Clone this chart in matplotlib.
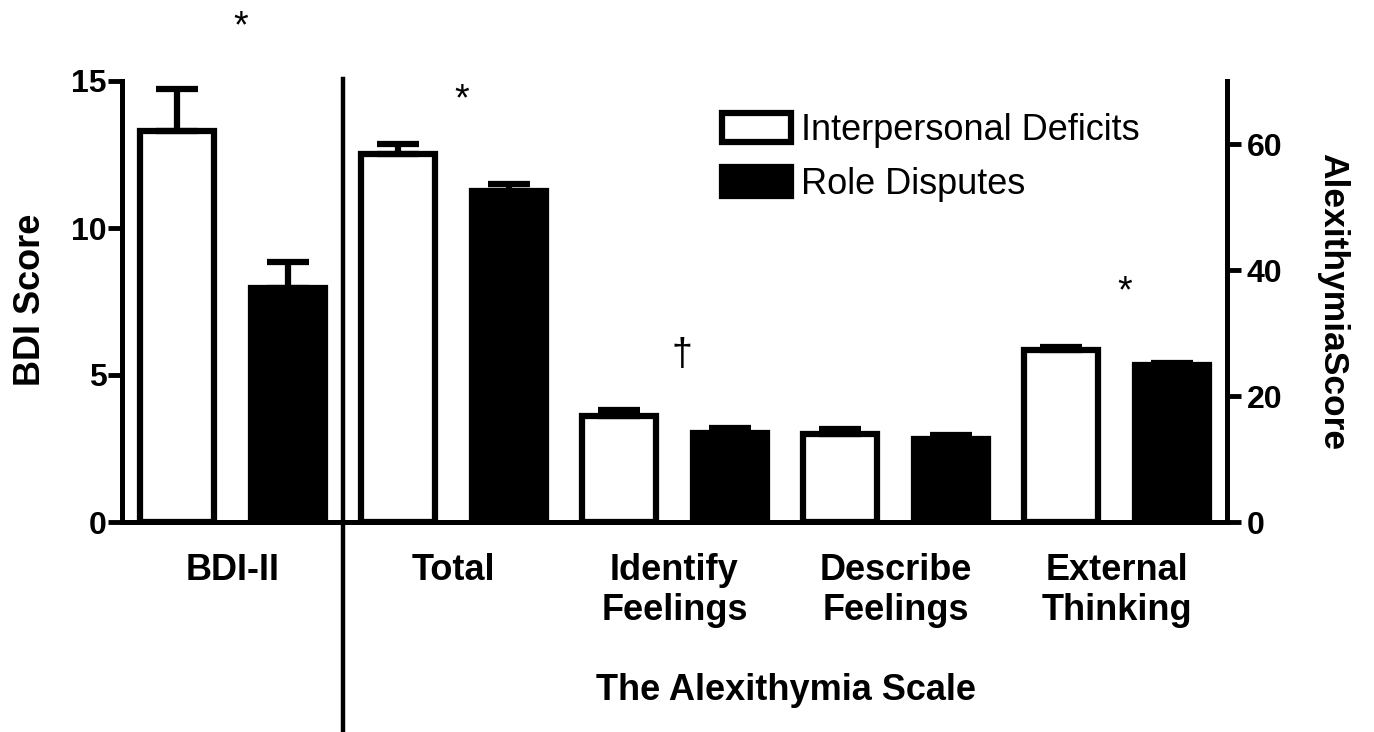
import numpy as np
import matplotlib
matplotlib.use("Agg")
import matplotlib.pyplot as plt

plt.rcParams['font.family'] = ['Liberation Sans', 'DejaVu Sans']

# ---- data ----
categories = ["BDI-II", "Total", "Identify\nFeelings", "Describe\nFeelings", "External\nThinking"]
series_names = ["Interpersonal Deficits", "Role Disputes"]
id_means = [13.3, 58.4, 16.9, 14.0, 27.3]   # BDI on left axis, rest on right axis
id_err = [1.42, 1.6, 0.8, 0.7, 0.5]
rd_means = [7.95, 52.5, 14.2, 13.2, 25.0]
rd_err = [0.88, 1.1, 0.8, 0.6, 0.3]
bdi_ticks = [0, 5, 10, 15]
alex_ticks = [0, 20, 40, 60]
sig_groups = [0, 1, 2, 4]
sig_symbols = ["*", "*", "\u2020", "*"]
sig_y = [78.6, 67.0, 26.5, 36.4]   # in alexithymia-axis units

W, H = 1374, 732
fig = plt.figure(figsize=(W / 100, H / 100), dpi=100)
ax = fig.add_axes([122 / W, 1 - 522 / H, 1105 / W, 441 / H])
ax2 = ax.twinx()

g = np.arange(len(categories))
x_id = 2 * g
x_rd = 2 * g + 1
bw = 0.67
elw = 4.5
cap = 15

bar_kw = dict(width=bw, edgecolor='black', linewidth=elw, zorder=2)
err_kw = dict(fmt='none', ecolor='black', elinewidth=elw, capsize=cap, capthick=elw, zorder=3)

# BDI (left axis)
ax.bar(x_id[:1], id_means[:1], color='white', **bar_kw)
ax.bar(x_rd[:1], rd_means[:1], color='black', **bar_kw)
ax.errorbar(x_id[:1], id_means[:1], yerr=[[0], id_err[:1]], **err_kw)
ax.errorbar(x_rd[:1], rd_means[:1], yerr=[[0], rd_err[:1]], **err_kw)

# Alexithymia (right axis)
h_id = ax2.bar(x_id[1:], id_means[1:], color='white', **bar_kw)
h_rd = ax2.bar(x_rd[1:], rd_means[1:], color='black', **bar_kw)
n = len(categories) - 1
ax2.errorbar(x_id[1:], id_means[1:], yerr=[[0] * n, id_err[1:]], **err_kw)
ax2.errorbar(x_rd[1:], rd_means[1:], yerr=[[0] * n, rd_err[1:]], **err_kw)

ax.set_xlim(-0.5, 2 * len(categories) - 0.5)
ax.set_ylim(0, 15)
ax2.set_ylim(0, 70)
ax.set_yticks(bdi_ticks)
ax2.set_yticks(alex_ticks)
ax.set_xticks(2 * g + 0.5)
ax.set_xticklabels(categories, fontsize=26, fontweight='bold')
ax.tick_params(axis='x', length=0, pad=22)
ax.tick_params(axis='y', direction='out', length=10, width=3.5, labelsize=23, pad=1)
ax2.tick_params(axis='y', direction='out', length=10, width=3.5, labelsize=23, pad=4)
for lbl in ax.get_yticklabels() + ax2.get_yticklabels():
    lbl.set_fontweight('bold')

for a in (ax, ax2):
    a.spines['top'].set_visible(False)
    for s in ('left', 'right', 'bottom'):
        a.spines[s].set_linewidth(3.6)

# divider line between BDI and alexithymia sections
ax.plot([1.5, 1.5], [-0.5, 1.005], color='black', lw=3.2,
        transform=ax.get_xaxis_transform(), clip_on=False, zorder=5)

# significance markers
for gi, sym, yy in zip(sig_groups, sig_symbols, sig_y):
    ax2.text(2 * gi + 0.57, yy, sym, fontsize=27, ha='center', va='center', clip_on=False)

# axis labels
fig.text(30 / W, 1 - 300 / H, "BDI Score", rotation=90, fontsize=26, fontweight='bold',
         ha='center', va='center')
fig.text(1333 / W, 1 - 302 / H, "AlexithymiaScore", rotation=-90, fontsize=25.5,
         fontweight='bold', ha='center', va='center')
fig.text(786 / W, 1 - 690 / H, "The Alexithymia Scale", fontsize=26, fontweight='bold',
         ha='center', va='center')

ax2.legend([h_id, h_rd], series_names, loc='upper left',
           bbox_to_anchor=(722 / W, 1 - 113 / H), bbox_transform=fig.transFigure,
           frameon=False, fontsize=26, handlelength=1.9, handleheight=0.85,
           handletextpad=0.3, labelspacing=0.52, borderpad=0, borderaxespad=0)

fig.savefig("out.png", dpi=100)
